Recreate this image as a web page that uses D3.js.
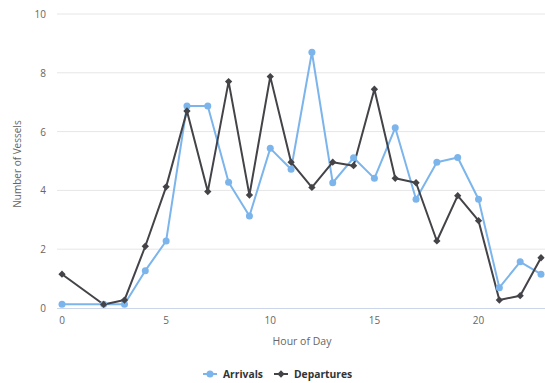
<!DOCTYPE html>
<html><head><meta charset="utf-8">
<script src="https://cdn.jsdelivr.net/npm/d3@7"></script>
<style>
html,body{margin:0;padding:0;background:#fff;overflow:hidden}
text{font-family:"Open Sans","Noto Sans",sans-serif}
</style></head>
<body>
<svg id="c" width="545" height="383"></svg>
<script>
const hours = [0,2,3,4,5,6,7,8,9,10,11,12,13,14,15,16,17,18,19,20,21,22,23];
const arrivals = [0.13,0.13,0.13,1.27,2.28,6.87,6.87,4.28,3.13,5.43,4.72,8.7,4.26,5.11,4.41,6.13,3.7,4.96,5.12,3.7,0.69,1.57,1.15];
const departures = [1.15,0.12,0.27,2.1,4.12,6.7,3.96,7.7,3.84,7.87,4.96,4.1,4.96,4.84,7.44,4.41,4.26,2.28,3.82,2.97,0.27,0.42,1.71];
const xTicks = [0,5,10,15,20];
const yTicks = [0,2,4,6,8,10];
const seriesNames = ["Arrivals","Departures"];
const colors = ["#7cb5ec","#434348"];

const svg = d3.select("#c");
const x = d3.scaleLinear().domain([0,23]).range([62,541]);
const y = d3.scaleLinear().domain([0,10]).range([308,14]);

// grid
svg.append("g").selectAll("line").data(yTicks.filter(d=>d>0)).join("line")
  .attr("x1",57).attr("x2",545).attr("y1",d=>y(d)).attr("y2",d=>y(d))
  .attr("stroke","#e6e6e6").attr("stroke-width",1);
// x axis line
svg.append("line").attr("x1",57).attr("x2",545).attr("y1",y(0)+0.5).attr("y2",y(0)+0.5)
  .attr("stroke","#ccd6eb").attr("stroke-width",1);

// y tick labels
svg.append("g").selectAll("text").data(yTicks).join("text")
  .attr("x",46).attr("y",d=>y(d)+4).attr("text-anchor","end")
  .attr("font-size",10).attr("fill","#666").text(d=>d);
// x tick labels
svg.append("g").selectAll("text").data(xTicks).join("text")
  .attr("x",d=>x(d)).attr("y",324).attr("text-anchor","middle")
  .attr("font-size",10).attr("fill","#666").text(d=>d);

// axis titles
svg.append("text").attr("x",302).attr("y",345).attr("text-anchor","middle")
  .attr("font-size",10.5).attr("fill","#666").text("Hour of Day");
svg.append("text").attr("transform","translate(21,164) rotate(-90)").attr("text-anchor","middle")
  .attr("font-size",10).attr("fill","#666").text("Number of Vessels");

const line = d3.line().x(d=>x(d[0])).y(d=>y(d[1]));
const sets = [arrivals, departures].map(vals => hours.map((h,i)=>[h,vals[i]]));

sets.forEach((pts,si)=>{
  svg.append("path").datum(pts).attr("d",line).attr("fill","none")
    .attr("stroke",colors[si]).attr("stroke-width",2).attr("stroke-linejoin","round");
});
// markers
svg.append("g").selectAll("circle").data(sets[0]).join("circle")
  .attr("cx",d=>x(d[0])).attr("cy",d=>y(d[1])).attr("r",3.5).attr("fill",colors[0]);
const diamond = d3.symbol().type(d3.symbolDiamond2).size(34);
svg.append("g").selectAll("path").data(sets[1]).join("path")
  .attr("transform",d=>`translate(${x(d[0])},${y(d[1])})`).attr("d",diamond).attr("fill",colors[1]);

// legend
const lg = svg.append("g");
const lx = [203, 274];
seriesNames.forEach((n,i)=>{
  lg.append("line").attr("x1",lx[i]).attr("x2",lx[i]+14).attr("y1",374).attr("y2",374)
    .attr("stroke",colors[i]).attr("stroke-width",2);
  if(i===0) lg.append("circle").attr("cx",lx[i]+7).attr("cy",374).attr("r",3.5).attr("fill",colors[i]);
  else lg.append("path").attr("transform",`translate(${lx[i]+7},374)`).attr("d",diamond).attr("fill",colors[i]);
  lg.append("text").attr("x",lx[i]+20).attr("y",378).attr("font-size",10.3).attr("font-weight","bold")
    .attr("fill","#333").text(n);
});
</script>
</body></html>
